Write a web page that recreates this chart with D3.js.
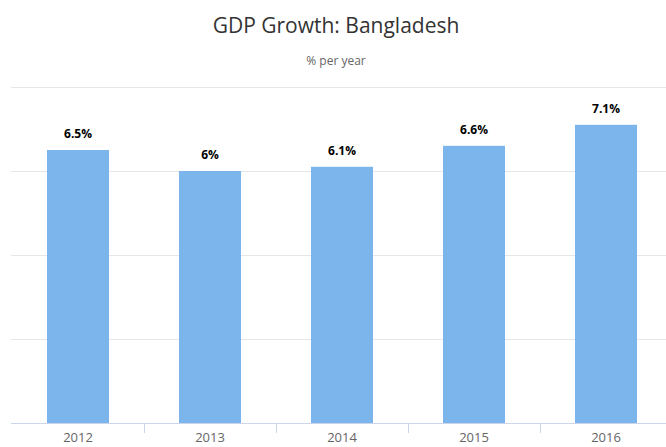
<!DOCTYPE html>
<html>
<head>
<meta charset="utf-8">
<script src="https://cdn.jsdelivr.net/npm/d3@7/dist/d3.min.js"></script>
<style>
  html, body { margin: 0; padding: 0; background: #fff; }
  svg { display: block; font-family: "Open Sans", "DejaVu Sans", sans-serif; }
</style>
</head>
<body>
<svg id="chart" width="666" height="447"></svg>
<script>
// GDP growth of Bangladesh, % per year
const years = ["2012", "2013", "2014", "2015", "2016"];
const growth = [6.5, 6.0, 6.1, 6.6, 7.1];
const growthLabels = ["6.5%", "6%", "6.1%", "6.6%", "7.1%"];
const yTicks = [0, 2, 4, 6, 8];

const svg = d3.select("#chart");
const plot = { left: 12, right: 672, top: 87, bottom: 423 };

const x = d3.scaleBand()
  .domain(years)
  .range([plot.left, plot.right])
  .paddingInner(0.53)
  .paddingOuter(0.265);

const xCat = d3.scaleBand().domain(years).range([plot.left, plot.right]);

const y = d3.scaleLinear().domain([0, 8]).range([plot.bottom, plot.top]);

// title and subtitle
svg.append("text")
  .attr("x", 336).attr("y", 33)
  .attr("text-anchor", "middle")
  .attr("font-size", 21)
  .attr("fill", "#333")
  .text("GDP Growth: Bangladesh");

svg.append("text")
  .attr("x", 336).attr("y", 65)
  .attr("text-anchor", "middle")
  .attr("font-size", 12)
  .attr("fill", "#666")
  .text("% per year");

// horizontal grid lines
svg.append("g")
  .selectAll("line")
  .data(yTicks.filter(d => d > 0))
  .join("line")
  .attr("x1", plot.left - 1).attr("x2", plot.right)
  .attr("y1", d => Math.round(y(d)) + 0.5)
  .attr("y2", d => Math.round(y(d)) + 0.5)
  .attr("stroke", "#e6e6e6")
  .attr("stroke-width", 1);

// bars
svg.append("g")
  .selectAll("rect")
  .data(growth)
  .join("rect")
  .attr("x", (d, i) => x(years[i]))
  .attr("width", x.bandwidth())
  .attr("y", d => y(d))
  .attr("height", d => y(0) - y(d))
  .attr("fill", "#7cb5ec");

// value labels
svg.append("g")
  .selectAll("text")
  .data(growth)
  .join("text")
  .attr("x", (d, i) => x(years[i]) + x.bandwidth() / 2)
  .attr("y", d => y(d) - 12)
  .attr("text-anchor", "middle")
  .attr("font-size", 12)
  .attr("font-weight", "bold")
  .attr("fill", "#000")
  .attr("stroke", "#fff")
  .attr("stroke-width", 2)
  .attr("paint-order", "stroke")
  .text((d, i) => growthLabels[i]);

// x axis
const xAxis = d3.axisBottom(xCat).tickSize(0).tickPadding(10);
const gx = svg.append("g")
  .attr("transform", `translate(0,${plot.bottom})`)
  .call(xAxis);
gx.select(".domain").attr("stroke", "#ccd6eb").attr("d", `M${plot.left - 1},0.5H${plot.right}`);
gx.selectAll("text")
  .attr("font-size", 13)
  .attr("font-family", "\"Open Sans\", \"DejaVu Sans\", sans-serif")
  .attr("fill", "#666");

// tick marks between categories
gx.append("g")
  .selectAll("line")
  .data(years.slice(1))
  .join("line")
  .attr("x1", d => Math.round(xCat(d)) + 0.5)
  .attr("x2", d => Math.round(xCat(d)) + 0.5)
  .attr("y1", 0).attr("y2", 10)
  .attr("stroke", "#ccd6eb");
</script>
</body>
</html>
